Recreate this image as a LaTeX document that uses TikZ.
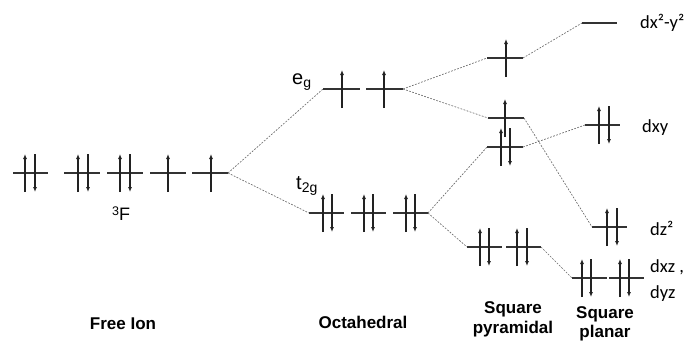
\documentclass[tikz,border=0pt]{standalone}
\usepackage{fontspec}
\setmainfont{Liberation Sans}
\newfontfamily\dfont{Carlito}
\usetikzlibrary{arrows.meta,calc}

\definecolor{lvlcol}{HTML}{333333}
\definecolor{spincol}{HTML}{222222}
\definecolor{dashcol}{HTML}{6A6A6A}

\tikzset{
  lvl/.style={draw=lvlcol, line width=1.3pt},
  spin/.style={draw=spincol, line width=1.05pt, -{Latex[length=5pt,width=4pt]}},
  conn/.style={draw=dashcol, line width=0.65pt, dash pattern=on 1.8pt off 1.4pt},
  termlbl/.style={inner sep=0pt, anchor=base west, font=\fontsize{18}{20}\selectfont},
  symlbl/.style={inner sep=0pt, anchor=base west, font=\fontsize{20}{22}\selectfont},
  orblbl/.style={inner sep=0pt, anchor=base west, font=\dfont\fontsize{18.5}{20}\selectfont},
  geomlbl/.style={inner sep=0pt, anchor=base, font=\bfseries\fontsize{17}{20}\selectfont}
}

% subscript used in the term symbols
\newcommand{\lowsub}[1]{\raisebox{-3pt}{\fontsize{14}{15}\selectfont #1}}

% level: name, x-left, x-right, y
\newcommand{\mylevel}[4]{%
  \coordinate (#1-L) at (#2,#4);
  \coordinate (#1-R) at (#3,#4);
  \draw[lvl] (#1-L) -- (#1-R);}
% spins: level name, offset from left end
\newcommand{\upspin}[2]{\draw[spin] ($(#1-L)+(#2,19)$) -- ($(#1-L)+(#2,-19)$);}
\newcommand{\downspin}[2]{\draw[spin] ($(#1-L)+(#2,-19)$) -- ($(#1-L)+(#2,19)$);}
\newcommand{\spinpair}[3]{\upspin{#1}{#2}\downspin{#1}{#3}}

\begin{document}
\begin{tikzpicture}[x=1pt,y=-1pt]
\useasboundingbox (0,0) rectangle (688,340);

% ---------- Free ion (3F) ----------
\mylevel{F1}{13}{48}{173}   \spinpair{F1}{12}{22}
\mylevel{F2}{64}{100}{173}  \spinpair{F2}{14}{24}
\mylevel{F3}{107}{143}{173} \spinpair{F3}{13}{23}
\mylevel{F4}{150}{186}{173} \upspin{F4}{18}
\mylevel{F5}{192}{228}{173} \upspin{F5}{19}
\node[termlbl] (termF) at (112,220) {\raisebox{5pt}{\fontsize{12.5}{13}\selectfont 3}F};

% ---------- Octahedral ----------
\mylevel{E1}{323}{360}{89}  \upspin{E1}{19}
\mylevel{E2}{366}{403}{89}  \upspin{E2}{18}
\node[symlbl] (eglbl) at (292,84) {e\lowsub{g}};

\mylevel{T1}{309}{344}{213} \spinpair{T1}{14}{23}
\mylevel{T2}{351}{386}{213} \spinpair{T2}{13}{22}
\mylevel{T3}{393}{428}{213} \spinpair{T3}{13}{22}
\node[symlbl] (t2glbl) at (296,189) {t\lowsub{2g}};

% ---------- Square pyramidal ----------
\mylevel{P1}{487}{523}{58}  \upspin{P1}{19}
\mylevel{P2}{488}{524}{118} \upspin{P2}{17}
\mylevel{P3}{487}{523}{147} \spinpair{P3}{14}{23}
\mylevel{P4}{467}{502}{247} \spinpair{P4}{13}{22}
\mylevel{P5}{506}{541}{247} \spinpair{P5}{11}{21}

% ---------- Square planar ----------
\mylevel{Q1}{582}{617}{23}
\mylevel{Q2}{585}{620}{125} \spinpair{Q2}{14}{24}
\mylevel{Q3}{592}{627}{227} \spinpair{Q3}{15}{25}
\mylevel{Q4}{572}{607}{278} \spinpair{Q4}{10}{19}
\mylevel{Q5}{609}{644}{278} \spinpair{Q5}{11}{20}

\node[orblbl] (dx2y2) at (640,28)  {dx²-y²};
\node[orblbl] (dxy)   at (642,132) {dxy};
\node[orblbl] (dz2)   at (650,235) {dz²};
\node[orblbl] (dxz)   at (650,272) {dxz ,};
\node[orblbl] (dyz)   at (650,298) {dyz};

% ---------- correlation lines ----------
\draw[conn] (F5-R) -- (E1-L);
\draw[conn] (F5-R) -- (T1-L);
\draw[conn] (E2-R) -- (P1-L);
\draw[conn] (E2-R) -- (P2-L);
\draw[conn] (T3-R) -- (P3-L);
\draw[conn] (T3-R) -- (P4-L);
\draw[conn] (P1-R) -- (Q1-L);
\draw[conn] (P2-R) -- (Q3-L);
\draw[conn] (P3-R) -- (Q2-L);
\draw[conn] (P5-R) -- (Q4-L);

% ---------- geometry captions ----------
\node[geomlbl] (freeion) at (123,329) {Free Ion};
\node[geomlbl] (octa)    at (363,328) {Octahedral};
\node[geomlbl] (pyrA)    at (513,313) {Square};
\node[geomlbl] (pyrB)    at (513,333) {pyramidal};
\node[geomlbl] (plnA)    at (605,318) {Square};
\node[geomlbl] (plnB)    at (605,337) {planar};
\end{tikzpicture}
\end{document}
